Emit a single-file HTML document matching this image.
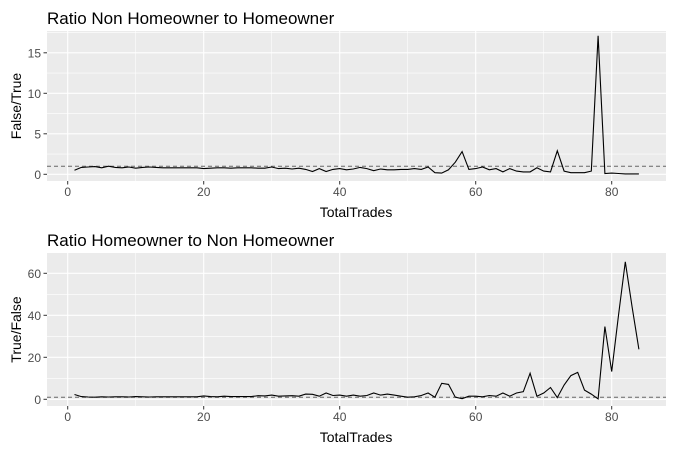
<!DOCTYPE html>
<html><head><meta charset="utf-8"><style>
body{margin:0;background:#fff;}
svg{display:block;font-family:"Liberation Sans",Arial,sans-serif;}
</style></head><body>
<svg id="c" width="674" height="449"></svg>
<script>
const xs = Array.from({length:84},(_,i)=>i+1);
const ratioFT = [0.5,0.85,0.9,0.95,0.8,1.0,0.85,0.8,0.9,0.75,0.85,0.9,0.85,0.8,0.8,0.8,0.8,0.8,0.8,0.7,0.75,0.8,0.8,0.75,0.8,0.8,0.8,0.75,0.75,0.9,0.7,0.75,0.65,0.75,0.6,0.35,0.7,0.35,0.6,0.7,0.55,0.65,0.85,0.7,0.45,0.65,0.55,0.55,0.6,0.6,0.7,0.6,0.9,0.2,0.15,0.55,1.5,2.8,0.6,0.7,0.9,0.55,0.7,0.3,0.7,0.4,0.3,0.3,0.8,0.4,0.3,2.9,0.4,0.2,0.2,0.2,0.4,17.1,0.1,0.15,0.1,0.05,0.05,0.05];
const ratioTF = [2.3,1.3,1.1,1.0,1.2,1.1,1.2,1.2,1.1,1.3,1.2,1.1,1.2,1.2,1.2,1.2,1.2,1.2,1.2,1.6,1.3,1.2,1.5,1.3,1.3,1.3,1.3,1.7,1.6,2.0,1.5,1.6,1.7,1.5,2.5,2.4,1.5,3.0,1.8,2.0,1.5,2.0,1.5,1.8,3.0,2.0,2.5,2.0,1.5,1.0,1.2,1.8,3.0,1.0,7.6,7.1,1.0,0.3,1.5,1.5,1.2,1.8,1.5,3.0,1.5,3.0,3.6,12.4,1.5,3.0,5.6,0.8,6.8,11.3,12.8,4.4,2.5,0.2,34.6,13.2,40,65.5,44,23.8];
const yTicks1 = [0,5,10,15];
const yTicks2 = [0,20,40,60];
const xTicks = [0,20,40,60,80];

const NS="http://www.w3.org/2000/svg";
const svg=document.getElementById('c');
function el(t,a,p){const e=document.createElementNS(NS,t);for(const k in a)e.setAttribute(k,a[k]);(p||svg).appendChild(e);return e;}
const xScale=v=>67.7+v*6.8;

function panel(cfg){
  const g=el('g',{});
  
  
  const y=v=>cfg.y0-v*cfg.k;
  const bg=el('rect',{x:47,y:cfg.top,width:619,height:cfg.bot-cfg.top,fill:'#ebebeb'},g);
  
  const step=cfg.ticks[1]-cfg.ticks[0];
  for(let v=cfg.ticks[0]-step/2;;v+=step/2){const py=y(v);if(py<cfg.top)break;if(py>cfg.bot)continue;
    const isMaj=cfg.ticks.includes(v);
    el('line',{x1:47,x2:666,y1:py,y2:py,stroke:'#fff','stroke-width':isMaj?1.1:0.55},g);}
  for(let v=-10;v<=90;v+=10){const px=xScale(v);if(px<47||px>666)continue;
    el('line',{x1:px,x2:px,y1:cfg.top,y2:cfg.bot,stroke:'#fff','stroke-width':v%20===0?1.1:0.55},g);}
  cfg.ticks.forEach(v=>{const py=y(v);
    el('line',{x1:43.5,x2:47,y1:py,y2:py,stroke:'#333','stroke-width':1},g);
    const t=el('text',{x:41,y:py+4.5,'text-anchor':'end','font-size':12,fill:'#4d4d4d'},g);t.textContent=v;
    });
  xTicks.forEach(v=>{const px=xScale(v);
    el('line',{x1:px,x2:px,y1:cfg.bot,y2:cfg.bot+3.5,stroke:'#333','stroke-width':1},g);
    const t=el('text',{x:px,y:cfg.bot+15,'text-anchor':'middle','font-size':12,fill:'#4d4d4d'},g);t.textContent=v;
    });
  const ref=el('line',{x1:47,x2:666,y1:y(1),y2:y(1),stroke:'#666','stroke-width':1,'stroke-dasharray':'4,3'},g);
  
  const d=xs.map((x,i)=>(i?'L':'M')+xScale(x).toFixed(1)+','+y(cfg.data[i]).toFixed(1)).join('');
  const p=el('path',{d:d,fill:'none',stroke:'#000','stroke-width':1.1},g);
  
  const tt=el('text',{x:47,y:cfg.top-7,'font-size':17,fill:'#000'},g);tt.textContent=cfg.title;
  
  const xt=el('text',{x:356,y:cfg.bot+36,'text-anchor':'middle','font-size':14,fill:'#000'},g);xt.textContent='TotalTrades';
  
  const cy=(cfg.top+cfg.bot)/2;
  const yt=el('text',{x:0,y:0,transform:`translate(21,${cy}) rotate(-90)`,'text-anchor':'middle','font-size':14,fill:'#000'},g);yt.textContent=cfg.ylab;
  
}
panel({name:'panel-non-homeowner',top:31,bot:181,y0:174.3,k:8.1,ticks:yTicks1,data:ratioFT,title:'Ratio Non Homeowner to Homeowner',ylab:'False/True'});
panel({name:'panel-homeowner',top:253,bot:406,y0:399.3,k:2.1,ticks:yTicks2,data:ratioTF,title:'Ratio Homeowner to Non Homeowner',ylab:'True/False'});
</script>
</body></html>
